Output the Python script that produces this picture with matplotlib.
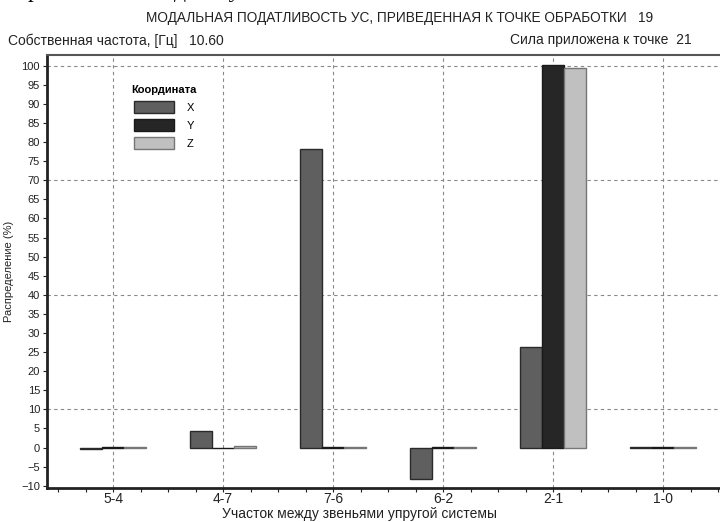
import numpy as np
import matplotlib.pyplot as plt
from matplotlib.patches import Patch
from matplotlib.ticker import MultipleLocator

plt.rcParams['font.family'] = ['Liberation Sans', 'DejaVu Sans']

# data
sections = ['5-4', '4-7', '7-6', '6-2', '2-1', '1-0']
x_vals = [-0.4, 4.2, 78.3, -8.2, 26.3, 0.1]
y_vals = [0.15, -0.1, 0.15, 0.15, 100.3, 0.15]
z_vals = [0.15, 0.4, 0.15, 0.15, 99.4, 0.15]
series = ['X', 'Y', 'Z']

colors = ['#5f5f5f', '#262626', '#c0c0c1']
edges = ['#2a2a2a', '#1a1a1a', '#767676']

fig = plt.figure(figsize=(7.2, 5.22), dpi=100)
ax = fig.add_axes([47 / 720, 1 - 488 / 522, 682 / 720, 433 / 522])

pos = np.arange(len(sections))
w = 0.2
handles = []
for i, vals in enumerate([x_vals, y_vals, z_vals]):
    ax.bar(pos + (i - 1) * w, vals, width=w, color=colors[i],
           edgecolor=edges[i], linewidth=1.0, zorder=3)
    handles.append(Patch(facecolor=colors[i], edgecolor=edges[i], linewidth=1.0))

ax.set_xlim(-0.6, 5.6)
ax.set_ylim(-10.6, 102.8)
ax.set_xticks(pos)
ax.set_xticklabels(sections, fontsize=10, color='#222222')
ax.xaxis.set_minor_locator(MultipleLocator(0.25))
ax.yaxis.set_major_locator(MultipleLocator(5))
ax.tick_params(axis='y', labelsize=8, length=3, width=0.8, colors='#222222', pad=2)
ax.tick_params(axis='x', which='both', length=3, width=0.8, colors='#222222', pad=0)

# grid: vertical at every section, horizontal every 30 starting at 10
for p in pos:
    ax.axvline(p, color='#888888', linestyle=(0, (3, 3)), linewidth=0.8, zorder=1)
for g in [10, 40, 70, 100]:
    ax.axhline(g, color='#888888', linestyle=(0, (3, 3)), linewidth=0.8, zorder=1)

for s in ['left', 'bottom']:
    ax.spines[s].set_linewidth(2.0)
    ax.spines[s].set_color('#222222')
ax.spines['top'].set_linewidth(1.5)
ax.spines['top'].set_color('#555555')
ax.spines['right'].set_visible(False)

ax.set_ylabel('Распределение (%)', fontsize=8, color='#222222', labelpad=5)
fig.text(360 / 720, 1 / 522, 'Участок между звеньями упругой системы',
         ha='center', va='bottom', fontsize=10, color='#222222')

leg = ax.legend(handles, series, title='Координата', loc='upper left',
                bbox_to_anchor=(126 / 720, 1 - 79 / 522), bbox_transform=fig.transFigure,
                frameon=False, handlelength=3.6, handleheight=1.2, fontsize=8,
                labelspacing=0.6, handletextpad=1.1, borderpad=0)
leg.get_title().set_fontweight('bold')
leg.get_title().set_fontsize(8)

fig.text(400 / 720, 1 - 18 / 522,
         'МОДАЛЬНАЯ ПОДАТЛИВОСТЬ УС, ПРИВЕДЕННАЯ К ТОЧКЕ ОБРАБОТКИ   19',
         ha='center', va='center', fontsize=9.8, color='#222222')
fig.text(8 / 720, 1 - 41 / 522, 'Собственная частота, [Гц]   10.60',
         ha='left', va='center', fontsize=10, color='#222222')
fig.text(692 / 720, 1 - 40 / 522, 'Сила приложена к точке  21',
         ha='right', va='center', fontsize=10, color='#222222')

# text of the surrounding document, cut by the top edge
fig.text(0.5, 1 + 9 / 522, 'рхностной осадки путем выявления «слабых» элементов системы',
         ha='center', va='center', fontsize=17, family='Liberation Serif', color='black')

fig.savefig('out.png', dpi=100)
